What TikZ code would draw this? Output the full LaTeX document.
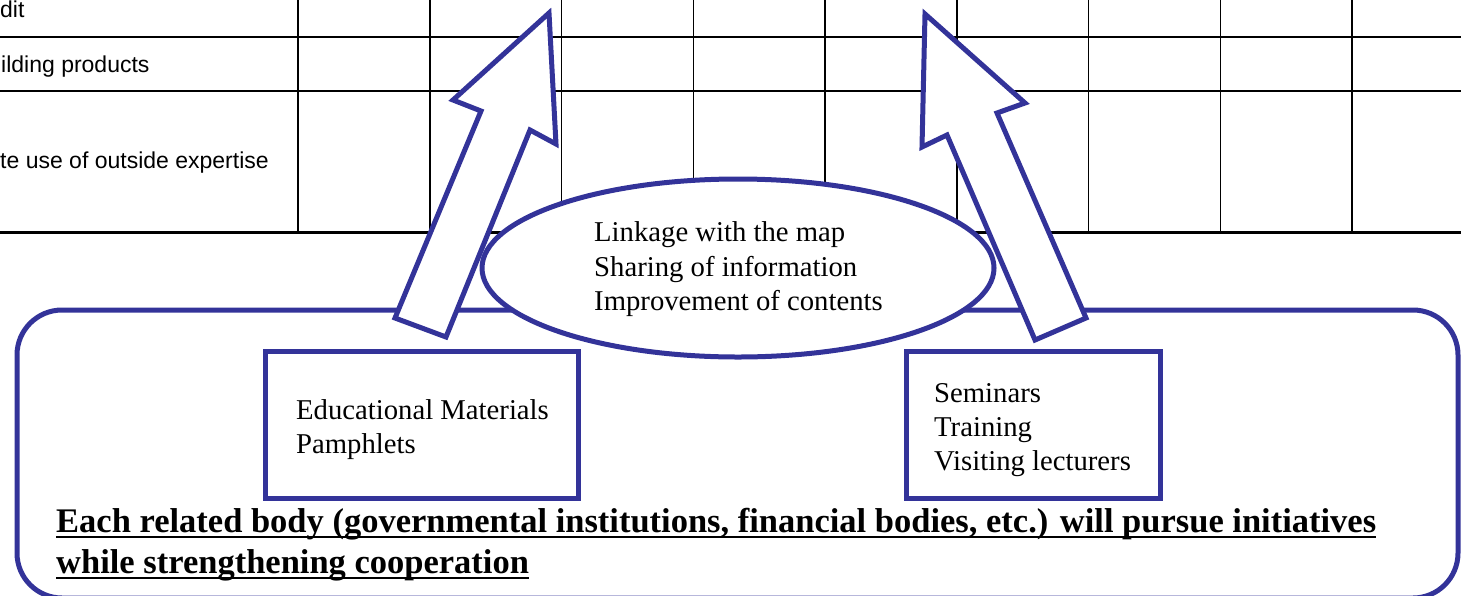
\documentclass[tikz,border=0pt]{standalone}
\usepackage{fontspec}
\setmainfont{Liberation Serif}
\newfontfamily\tabfont{Liberation Sans}
\usetikzlibrary{shapes.geometric}
\definecolor{dblue}{RGB}{51,51,153}
\begin{document}
\begin{tikzpicture}[x=1pt,y=-1pt,
  blueline/.style={draw=dblue,line width=5pt,line join=miter},
  arrowshape/.style={blueline,fill=white},
  thin/.style={draw=black,line width=1.5pt},
  tabtxt/.style={inner sep=0pt,anchor=base west,font=\tabfont\fontsize{23}{27}\selectfont},
  serif/.style={inner sep=0pt,anchor=base west,font=\fontsize{28.7}{33}\selectfont},
  boldtxt/.style={inner sep=0pt,anchor=base west,font=\bfseries\fontsize{34.5}{39}\selectfont},
  boxnode/.style={blueline,fill=white,anchor=north west,inner sep=0pt,outer sep=0pt}]
\useasboundingbox (0,0) rectangle (1461,595);
% table
\foreach \xx in {298,429.75,561.5,693.25,825,956.75,1088.5,1220.25,1352}
  \draw[thin] (\xx,-2) -- (\xx,232);
\draw[thin] (-2,37) -- (1463,37);
\draw[thin] (-2,91) -- (1463,91);
\draw[draw=black,line width=3pt] (-2,232) -- (1463,232);
\node[tabtxt] (r1) at (0,17) {dit};
\node[tabtxt] (r2) at (1,72) {ilding products};
\node[tabtxt] (r3) at (0,168) {te use of outside expertise};
% frame
\node[draw=dblue,line width=5pt,rounded corners=45pt,anchor=north west,outer sep=0pt,
      minimum width=1441pt,minimum height=288pt,inner sep=0pt] (frame) at (17,310) {};
% arrows
\draw[arrowshape] (549,13) -- (556,144) -- (530,130) -- (446,337) -- (395,318) -- (481,111) -- (453,100) -- cycle;
\draw[arrowshape] (925,14) -- (1025,103) -- (997,113) -- (1086,318) -- (1035,340) -- (947,135) -- (922,147) -- cycle;
% ellipse
\node[ellipse,blueline,fill=white,minimum width=512pt,minimum height=178pt,inner sep=0pt] (ell) at (738,268) {};
\node[serif] (e1) at (594,241) {Linkage with the map};
\node[serif] (e2) at (594,276) {Sharing of information};
\node[serif] (e3) at (594,310) {Improvement of contents};
% boxes
\node[boxnode,minimum width=313pt,minimum height=147pt] (bl) at (265,351) {};
\node[boxnode,minimum width=254pt,minimum height=147pt] (br) at (906,351) {};
\node[serif] (b1) at (296,419) {Educational Materials};
\node[serif] (b2) at (296,453) {Pamphlets};
\node[serif] (c1) at (934,402) {Seminars};
\node[serif] (c2) at (934,436) {Training};
\node[serif] (c3) at (934,470) {Visiting lecturers};
% bold text
\node[boldtxt] (t1) at (56,532) {Each related body (governmental institutions, financial bodies, etc.) will pursue initiatives};
\node[boldtxt] (t2) at (56,573) {while strengthening cooperation};
\draw[black,line width=2pt] ([yshift=-5pt]t1.base west) -- ([yshift=-5pt]t1.base east);
\draw[black,line width=2pt] ([yshift=-5pt]t2.base west) -- ([yshift=-5pt]t2.base east);
\end{tikzpicture}
\end{document}
